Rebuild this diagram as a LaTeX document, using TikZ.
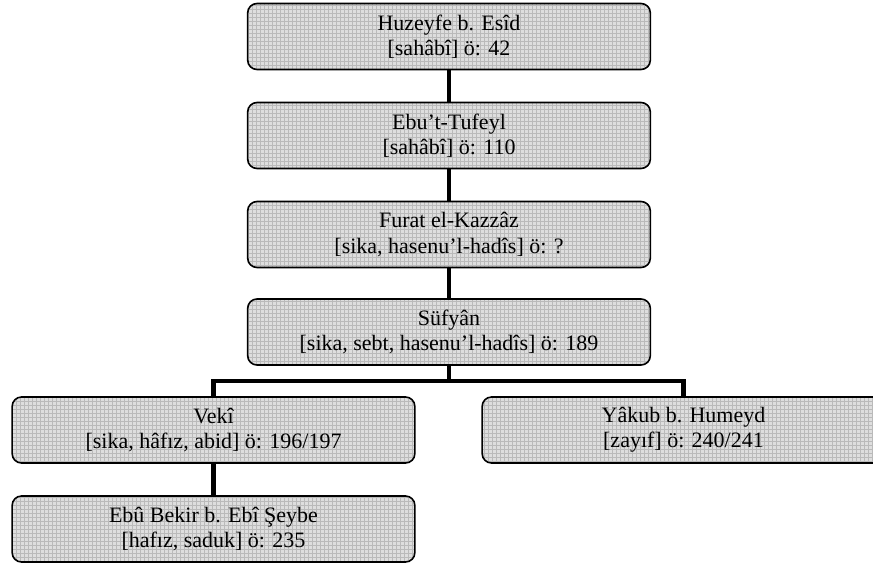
\documentclass[tikz,border=0pt]{standalone}
\usepackage{fontspec}
\setmainfont{Liberation Serif}
\usetikzlibrary{patterns}
\begin{document}
\begin{tikzpicture}[x=0.75pt,y=-0.75pt,
  rbox/.style={draw=black, line width=1.2pt, rounded corners=7pt,
    preaction={fill=black!13}, pattern=grid, pattern color=black!27,
    minimum width=302pt, minimum height=49.5pt, inner sep=0pt, align=center,
    font=\fontsize{16.5}{19}\selectfont},
  conn/.style={line width=3.4pt, line join=miter, line cap=butt}]
\clip (0,0) rectangle (873,565);
\fill[white] (0,0) rectangle (873,565);
\node[rbox] (h) at (449,36.5) {Huzeyfe b. Esîd\\{}[sahâbî] ö: 42};
\node[rbox] (t) at (449,135.5) {Ebu’t-Tufeyl\\{}[sahâbî] ö: 110};
\node[rbox] (f) at (449,234.5) {Furat el-Kazzâz\\{}[sika, hasenu’l-hadîs] ö: ?};
\node[rbox] (s) at (449,332) {Süfyân\\{}[sika, sebt, hasenu’l-hadîs] ö: 189};
\node[rbox] (v) at (213.5,430) {Vekî\\{}[sika, hâfız, abid] ö: 196/197};
\node[rbox] (y) at (683.5,430) {Yâkub b. Humeyd\\{}[zayıf] ö: 240/241};
\node[rbox] (e) at (213.5,529) {Ebû Bekir b. Ebî Şeybe\\{}[hafız, saduk] ö: 235};
\coordinate (bar) at (449,381);
\draw[conn] (h.south) -- (t.north);
\draw[conn] (t.south) -- (f.north);
\draw[conn] (f.south) -- (s.north);
\draw[conn] (s.south) -- (bar);
\draw[conn] (v.north) -- (v.north |- bar) -- (y.north |- bar) -- (y.north);
\draw[conn] (v.south) -- (e.north);
\end{tikzpicture}
\end{document}
